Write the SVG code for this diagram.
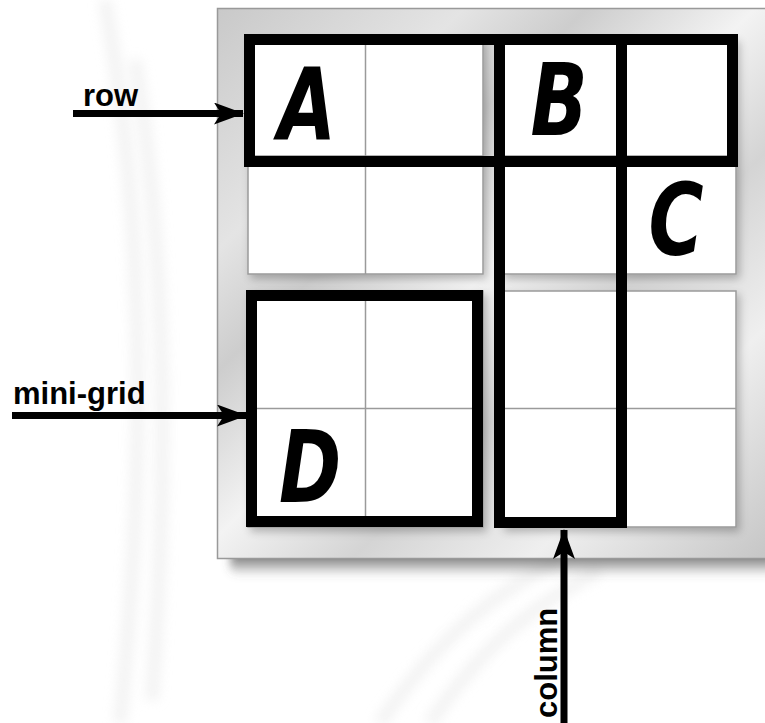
<svg xmlns="http://www.w3.org/2000/svg" width="765" height="723" viewBox="0 0 765 723">
  <defs>
    <linearGradient id="metal" x1="0" y1="0" x2="1" y2="1">
      <stop offset="0" stop-color="#c9c9c9"/>
      <stop offset="0.22" stop-color="#e4e4e4"/>
      <stop offset="0.33" stop-color="#cdcdcd"/>
      <stop offset="0.48" stop-color="#f3f3f3"/>
      <stop offset="0.62" stop-color="#d4d4d4"/>
      <stop offset="0.78" stop-color="#efefef"/>
      <stop offset="1" stop-color="#c4c4c4"/>
    </linearGradient>
    <linearGradient id="shadowGrad" x1="0" y1="0" x2="0" y2="1">
      <stop offset="0" stop-color="#555"/>
      <stop offset="1" stop-color="#555" stop-opacity="0"/>
    </linearGradient>
    <filter id="soft" x="-10%" y="-100%" width="120%" height="300%">
      <feGaussianBlur stdDeviation="4"/>
    </filter>
    <filter id="cellShade" x="-10%" y="-10%" width="130%" height="130%">
      <feGaussianBlur in="SourceAlpha" stdDeviation="4"/>
      <feOffset dx="3" dy="4"/>
      <feComponentTransfer><feFuncA type="linear" slope="0.25"/></feComponentTransfer>
      <feMerge><feMergeNode/><feMergeNode in="SourceGraphic"/></feMerge>
    </filter>
    <filter id="haze" x="-50%" y="-10%" width="200%" height="120%"><feGaussianBlur stdDeviation="6"/></filter>
    <marker id="head" viewBox="0 0 30 22" refX="29" refY="11" markerWidth="30" markerHeight="22" markerUnits="userSpaceOnUse" orient="auto">
      <path d="M0,0 L30,11 L0,22 L7,11 Z" fill="#000"/>
    </marker>
  </defs>
  <style>
    .cell { fill: #ffffff; stroke: #9a9a9a; stroke-width: 1.5; }
    .div { stroke: #9a9a9a; stroke-width: 1.5; }
    .box { fill: none; stroke: #000; stroke-width: 11; }
    .lbl { font-family: "Liberation Sans", Arial, sans-serif; font-weight: bold; font-size: 31px; fill: #000; }
    .glyph { font-family: "DejaVu Sans", sans-serif; font-weight: bold; font-style: italic; font-size: 100px; fill: #000; text-anchor: middle; }
    .arrow { stroke: #000; stroke-width: 7; fill: none; marker-end: url(#head); }
  </style>

  <!-- backdrop with faint silk streaks -->
  <rect width="765" height="723" fill="#ffffff"/>
  <g fill="none" stroke="#e9e9e9" stroke-width="12" filter="url(#haze)" opacity="0.6">
    <path d="M105,0 C140,200 150,420 120,723"/>
    <path d="M135,60 C168,260 168,480 152,700"/>
    <path d="M380,723 C430,650 480,600 560,560"/>
    <path d="M430,723 C480,650 525,610 600,570"/>
  </g>

  <!-- board -->
  <g id="board">
    <rect x="230" y="550" width="545" height="26" rx="10" fill="url(#shadowGrad)" filter="url(#soft)"/>
    <rect x="217.5" y="8.5" width="560" height="550" fill="url(#metal)" stroke="#999" stroke-width="1.5"/>
  </g>

  <!-- four 2x2 mini-grids -->
  <g id="grid-top-left" filter="url(#cellShade)">
    <rect class="cell" x="248" y="38" width="235" height="236"/>
    <line class="div" x1="365.5" y1="38" x2="365.5" y2="274"/>
    <line class="div" x1="248" y1="156" x2="483" y2="156"/>
  </g>
  <g id="grid-top-right" filter="url(#cellShade)">
    <rect class="cell" x="502" y="38" width="234" height="236"/>
    <line class="div" x1="619" y1="38" x2="619" y2="274"/>
    <line class="div" x1="502" y1="156" x2="736" y2="156"/>
  </g>
  <g id="grid-bottom-left" filter="url(#cellShade)">
    <rect class="cell" x="248" y="291" width="235" height="236"/>
    <line class="div" x1="365.5" y1="291" x2="365.5" y2="527"/>
    <line class="div" x1="248" y1="408.5" x2="483" y2="408.5"/>
  </g>
  <g id="grid-bottom-right" filter="url(#cellShade)">
    <rect class="cell" x="502" y="291" width="234" height="236"/>
    <line class="div" x1="619" y1="291" x2="619" y2="527"/>
    <line class="div" x1="502" y1="408.5" x2="736" y2="408.5"/>
  </g>

  <!-- highlighted regions -->
  <g id="row-box"><rect class="box" x="249.5" y="39.5" width="483" height="122"/></g>
  <g id="column-box"><rect class="box" x="499.5" y="39.5" width="122" height="483"/></g>
  <g id="mini-grid-box"><rect class="box" x="251.5" y="295.5" width="226" height="226"/></g>

  <!-- cell letters -->
  <g id="letter-A"><text class="glyph" transform="translate(307,139) scale(0.75,1)">A</text></g>
  <g id="letter-B"><text class="glyph" transform="translate(559,135) scale(0.75,1)">B</text></g>
  <g id="letter-C"><text class="glyph" transform="translate(676,255) scale(0.75,1)">C</text></g>
  <g id="letter-D"><text class="glyph" transform="translate(310,502) scale(0.75,1)">D</text></g>

  <!-- labels -->
  <g id="label-row"><text class="lbl" x="83" y="106">row</text></g>
  <g id="label-mini-grid"><text class="lbl" x="13" y="404">mini-grid</text></g>
  <g id="label-column"><text class="lbl" transform="translate(557,718) rotate(-90)">column</text></g>

  <!-- connectors -->
  <g id="connectors">
    <line class="arrow" x1="73" y1="113.5" x2="243" y2="113.5"/>
    <line class="arrow" x1="12" y1="415.5" x2="246" y2="415.5"/>
    <line class="arrow" x1="564" y1="723" x2="564" y2="530"/>
  </g>
</svg>
